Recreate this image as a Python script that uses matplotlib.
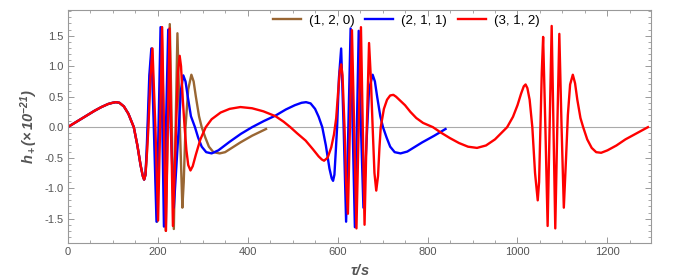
import matplotlib
matplotlib.use("Agg")
import matplotlib.pyplot as plt
from matplotlib.ticker import MultipleLocator
import numpy as np

plt.rcParams['font.family'] = ['Liberation Sans', 'DejaVu Sans']
plt.rcParams['mathtext.fontset'] = 'custom'
plt.rcParams['mathtext.it'] = 'Liberation Sans:bold:italic'
plt.rcParams['mathtext.rm'] = 'Liberation Sans:bold:italic'
plt.rcParams['mathtext.bf'] = 'Liberation Sans:bold:italic'

# shared start of all three waveforms (tau in s, h in 1e-21)
tau_start = [0, 20, 40, 60, 75, 90, 100, 107, 115, 125, 135, 147, 155, 162, 167, 170]
h_start = [0, 0.09, 0.18, 0.27, 0.33, 0.38, 0.40, 0.41, 0.40, 0.34, 0.22, 0.0, -0.30, -0.62, -0.80, -0.86]

# (1, 2, 0)
tau_120 = [173, 176, 178.5, 183, 187.5, 193, 199, 204, 209, 213.5, 218, 222.5, 227, 231.5, 236,
           240, 244, 249.5, 255, 258, 262, 268, 275, 280, 285, 292, 298, 306, 314, 324, 338,
           350, 384, 410, 441]
h_120 = [-0.78, -0.40, 0.0, 0.85, 1.29, 0.0, -1.55, 0.0, 1.64, 0.0, -1.70, 0.0, 1.69, 0.0, -1.67,
         0.0, 1.54, 0.0, -1.32, -0.90, 0.0, 0.62, 0.86, 0.75, 0.50, 0.18, 0.0, -0.17, -0.32, -0.41, -0.43,
         -0.41, -0.25, -0.14, -0.03]

# (2, 1, 1)
tau_211 = [173, 175.5, 177.5, 181.5, 186, 191.5, 197.5, 202, 206.5, 210.5, 214, 218.5, 223.5,
           229, 236, 242, 247, 252, 257, 262, 267, 274, 283, 290, 298, 308, 320,
           335, 360, 385, 410, 436, 462, 485, 505, 520, 530, 540, 550, 558, 566,
           574, 582, 587, 590, 593, 596, 599, 603, 608, 613.5, 619, 624, 629, 633.5, 638.5,
           643, 647, 652, 657.5, 664, 670, 678, 683, 688, 695, 701, 709, 717, 727, 740,
           755, 788, 815, 840]
h_211 = [-0.78, -0.40, 0.0, 0.85, 1.29, 0.0, -1.55, 0.0, 1.64, 0.0, -1.63, 0.0, 1.60,
         0.0, -1.32, -0.60, 0.0, 0.62, 0.85, 0.75, 0.50, 0.18, 0.0, -0.17, -0.32, -0.41, -0.43,
         -0.38, -0.24, -0.11, 0.0, 0.10, 0.19, 0.29, 0.36, 0.40, 0.41, 0.39, 0.30, 0.17, 0.0,
         -0.30, -0.68, -0.84, -0.88, -0.78, -0.40, 0.0, 0.80, 1.29, 0.0, -1.55, 0.0, 1.62, 0.0, -1.64,
         0.0, 1.58, 0.0, -1.32, -0.30, 0.62, 0.86, 0.75, 0.50, 0.18, 0.0, -0.17, -0.32, -0.41, -0.43,
         -0.40, -0.25, -0.14, -0.03]

# (3, 1, 2)
tau_312 = [173, 176.5, 179.5, 184, 188.5, 195, 201, 205.5, 210, 214, 218.5, 222.5, 226.5, 230,
           234, 241, 245, 249, 252, 256, 260, 264, 268, 273, 278, 285, 295, 307, 320, 340,
           360, 384, 410, 435, 462, 480, 495, 510, 529, 545, 558, 565, 570, 578, 586, 592,
           597, 601, 605, 608, 611, 615.5, 619, 623, 627.5, 632, 637, 642, 647, 652, 656,
           660, 665, 670, 674, 678, 682, 686, 690, 693, 696, 703, 710, 717, 724, 730, 740,
           750, 762, 775, 790, 812, 830, 850, 870, 890, 910, 930, 950, 965, 977, 990, 1000,
           1008, 1014, 1018, 1022, 1027, 1033, 1039, 1045, 1048, 1051, 1054, 1057, 1062, 1067,
           1071.5, 1076, 1080, 1084, 1088.5, 1093, 1098, 1103, 1108, 1112, 1117, 1123, 1128,
           1133, 1140, 1146, 1155, 1165, 1175, 1186, 1200, 1220, 1240, 1260, 1290]
h_312 = [-0.78, -0.40, 0.0, 0.80, 1.29, 0.0, -1.53, 0.0, 1.64, 0.0, -1.70, 0.0, 1.62, 0.0,
         -1.62, 0.0, 0.90, 1.17, 1.00, 0.45, 0.0, -0.38, -0.62, -0.71, -0.64, -0.45, -0.20, 0.0, 0.13, 0.24,
         0.30, 0.33, 0.31, 0.26, 0.18, 0.09, 0.0, -0.10, -0.22, -0.36, -0.48, -0.53, -0.55, -0.50, -0.33, -0.12,
         0.15, 0.55, 0.92, 1.03, 0.85, 0.0, -0.90, -1.42, 0.0, 1.59, 0.0, -1.66, 0.0, 1.64, 0.0,
         -1.60, 0.0, 1.38, 0.80, 0.0, -0.75, -1.04, -0.80, -0.35, 0.0, 0.30, 0.45, 0.52, 0.53, 0.50, 0.43,
         0.36, 0.25, 0.15, 0.07, 0.0, -0.09, -0.18, -0.26, -0.32, -0.34, -0.30, -0.20, -0.09, 0.0, 0.17, 0.36,
         0.55, 0.67, 0.70, 0.64, 0.45, 0.0, -0.75, -1.20, -0.90, 0.0, 0.90, 1.48, 0.0, -1.62,
         0.0, 1.66, 0.0, -1.66, 0.0, 1.53, 0.0, -1.32, -0.50, 0.20, 0.70, 0.86, 0.72,
         0.45, 0.15, 0.0, -0.20, -0.34, -0.41, -0.42, -0.38, -0.30, -0.20, -0.12, 0.0]

labels = ["(1, 2, 0)", "(2, 1, 1)", "(3, 1, 2)"]
colors = ["#996633", "#0000FF", "#FF0000"]

fig = plt.figure(figsize=(6.74, 2.8), dpi=100)
ax = fig.add_axes([0.1004, 0.132, 0.8656, 0.832])

series = [(tau_120, h_120), (tau_211, h_211), (tau_312, h_312)]
for (t, h), lab, c in zip(series, labels, colors):
    ax.plot(tau_start + t, h_start + h, color=c, lw=1.7, label=lab, solid_joinstyle='round')

ax.axhline(0, color="#AAAAAA", lw=0.8, zorder=0)
ax.set_xlim(0, 1297)
ax.set_ylim(-1.9, 1.92)

ax.xaxis.set_major_locator(MultipleLocator(200))
ax.xaxis.set_minor_locator(MultipleLocator(50))
ax.yaxis.set_major_locator(MultipleLocator(0.5))
ax.yaxis.set_minor_locator(MultipleLocator(0.1))
ax.yaxis.set_major_formatter(matplotlib.ticker.FormatStrFormatter('%.1f'))
ax.tick_params(which='both', direction='in', top=True, right=True, color='#999999',
               labelcolor='#555555', labelsize=8, pad=3)
ax.tick_params(which='major', length=4, width=0.7)
ax.tick_params(which='minor', length=2, width=0.6)
for s in ax.spines.values():
    s.set_color('#999999')
    s.set_linewidth(0.8)

ax.set_xlabel(r"$\tau/s$", fontsize=10.5, color='#555555')
ax.set_ylabel(r"$h_+(\times\,10^{-21})$", fontsize=10.5, color='#555555')
ax.yaxis.set_label_coords(-0.048, 0.5)
ax.xaxis.set_label_coords(0.5, -0.085)

ax.legend(loc='center', bbox_to_anchor=(0.58, 0.955), ncol=3, frameon=False, fontsize=9.5,
          handlelength=2.1, handletextpad=0.6, columnspacing=0.85, borderpad=0)

fig.savefig("out.png", dpi=100)
